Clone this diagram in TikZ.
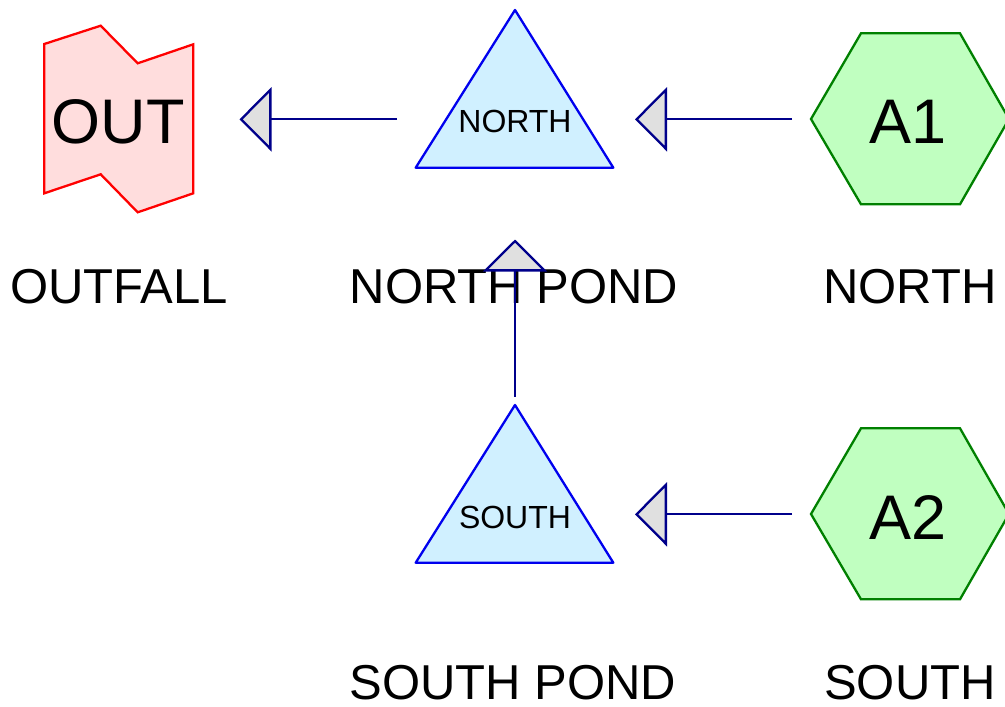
\documentclass[tikz,border=0pt]{standalone}
\usepackage{fontspec}
\setmainfont{Liberation Sans}
\usetikzlibrary{arrows.meta}
\definecolor{outfill}{HTML}{FFDDDD}
\definecolor{outline}{HTML}{FF0000}
\definecolor{pondfill}{HTML}{D0F0FF}
\definecolor{pondline}{HTML}{0000EE}
\definecolor{subfill}{HTML}{C0FFC0}
\definecolor{subline}{HTML}{008000}
\definecolor{connline}{HTML}{00008B}
\definecolor{tipfill}{HTML}{E0E0E0}
\tikzset{
  outshape/.style={draw=outline, fill=outfill, line width=2.3pt, line join=miter},
  pondshape/.style={draw=pondline, fill=pondfill, line width=2.3pt, line join=round},
  subshape/.style={draw=subline, fill=subfill, line width=2.3pt},
  conn/.style={draw=connline, line width=2.3pt, -{Triangle[length=32pt, width=64pt, fill=tipfill, line join=miter]}},
  bigtext/.style={font=\fontsize{63}{70}\selectfont, inner sep=0pt},
  smalltext/.style={font=\fontsize{32}{38}\selectfont, inner sep=0pt},
  labeltext/.style={font=\fontsize{49}{56}\selectfont, inner sep=0pt, anchor=base},
}
\begin{document}
\begin{tikzpicture}[x=1pt, y=-1pt]
\useasboundingbox (0,0) rectangle (1005,707);
% outfall
\draw[outshape] (44.3,44) -- (100.7,25.7) -- (137.7,63.3) -- (193.3,44.3) -- (193.3,193.3) -- (137.7,212.3) -- (100.7,174.3) -- (44.3,193.3) -- cycle;
\node[bigtext] (out) at (118,122) {OUT};
\node[labeltext] (outlbl) at (119,303) {OUTFALL};
% north pond
\draw[pondshape] (515,10) -- (613.3,167.7) -- (415.7,167.7) -- cycle;
\node[smalltext] (north) at (515,121) {NORTH};
\node[labeltext] (northlbl) at (514,303) {NORTH POND};
% south pond
\draw[pondshape] (515,405) -- (613.3,562.7) -- (415.7,562.7) -- cycle;
\node[smalltext] (south) at (515,517) {SOUTH};
\node[labeltext] (southlbl) at (513,699) {SOUTH POND};
% subcatchments
\draw[subshape] (811,119) -- (861,33.3) -- (960,33.3) -- (1009,119) -- (960,204.3) -- (861,204.3) -- cycle;
\node[bigtext] (a1) at (908,122) {A1};
\node[labeltext] (a1lbl) at (910,303) {NORTH};
\draw[subshape] (811,514) -- (861,428.3) -- (960,428.3) -- (1009,514) -- (960,599.3) -- (861,599.3) -- cycle;
\node[bigtext] (a2) at (908,517) {A2};
\node[labeltext] (a2lbl) at (910,699) {SOUTH};
% connector end points
\coordinate (a1w) at (792,119.3);
\coordinate (northin) at (635,119.3);
\coordinate (northw) at (397,119.3);
\coordinate (outin) at (239.5,119.3);
\coordinate (a2w) at (792,514.3);
\coordinate (southin) at (635,514.3);
\coordinate (southn) at (515,396.7);
\coordinate (northsin) at (515,239.5);
\draw[conn] (a1w) -- (northin);
\draw[conn] (northw) -- (outin);
\draw[conn] (a2w) -- (southin);
\draw[conn] (southn) -- (northsin);
\end{tikzpicture}
\end{document}
